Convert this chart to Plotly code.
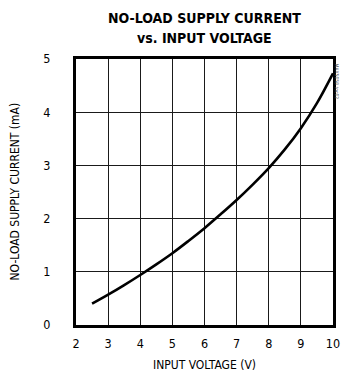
import plotly.graph_objects as go

# Data
input_voltage = [2.5, 3.0, 3.5, 4.0, 4.5, 5.0, 5.5, 6.0, 6.5, 7.0, 7.5, 8.0, 8.5, 9.0, 9.5, 10.0]
supply_current = [0.40, 0.57, 0.75, 0.94, 1.14, 1.35, 1.58, 1.82, 2.08, 2.35, 2.64, 2.95, 3.30, 3.70, 4.17, 4.73]

x_ticks = [2, 3, 4, 5, 6, 7, 8, 9, 10]
y_ticks = [0, 1, 2, 3, 4, 5]

FONT = "Liberation Sans Narrow, DejaVu Sans Condensed, Arial Narrow, sans-serif"

fig = go.Figure()
fig.add_trace(go.Scatter(
    x=input_voltage, y=supply_current, mode="lines",
    line=dict(color="black", width=2.6, shape="spline", smoothing=1.0),
    showlegend=False, hoverinfo="skip",
))

W, H = 347, 373
L, R, T, B = 75.5, 6.5, 59, 48

fig.update_layout(
    width=W, height=H,
    margin=dict(l=L, r=R, t=T, b=B, pad=0),
    paper_bgcolor="white", plot_bgcolor="white",
    font=dict(family=FONT, size=12, color="black"),
    xaxis=dict(
        range=[2, 10], tickvals=x_ticks, ticktext=[str(v) for v in x_ticks],
        showgrid=True, gridcolor="#1a1a1a", gridwidth=1.2,
        showline=True, linecolor="black", linewidth=3, mirror=True,
        ticks="", ticklabelstandoff=5, zeroline=False,
        tickfont=dict(family=FONT, size=12.5),
    ),
    yaxis=dict(
        range=[0, 5], tickvals=y_ticks, ticktext=[str(v) for v in y_ticks],
        showgrid=True, gridcolor="#1a1a1a", gridwidth=1.2,
        showline=True, linecolor="black", linewidth=3, mirror=True,
        ticks="", ticklabelstandoff=20, zeroline=False,
        tickfont=dict(family=FONT, size=12.5),
    ),
    annotations=[
        dict(text="<b>NO-LOAD SUPPLY CURRENT</b>", xref="paper", yref="paper",
             x=0.5, y=1, yshift=41, xanchor="center", yanchor="middle",
             showarrow=False, font=dict(family=FONT, size=14)),
        dict(text="<b>vs. INPUT VOLTAGE</b>", xref="paper", yref="paper",
             x=0.5, y=1, yshift=21, xanchor="center", yanchor="middle",
             showarrow=False, font=dict(family=FONT, size=14)),
        dict(text="NO-LOAD SUPPLY CURRENT (mA)", xref="paper", yref="paper",
             x=0, y=0.5, xshift=-61.5, xanchor="center", yanchor="middle",
             textangle=-90, showarrow=False, font=dict(family=FONT, size=12)),
        dict(text="INPUT VOLTAGE (V)", xref="paper", yref="paper",
             x=0.5, y=0, yshift=-40, xanchor="center", yanchor="middle",
             showarrow=False, font=dict(family=FONT, size=12)),
        dict(text="MAX5058 toc02", xref="paper", yref="paper",
             x=1, y=1, xshift=3.5, yshift=-22, xanchor="center", yanchor="middle",
             textangle=90, showarrow=False, font=dict(family=FONT, size=5, color="#555")),
    ],
)

fig.write_html(
    "out.html",
    config={"displayModeBar": False, "staticPlot": True},
    post_script="document.body.style.margin='0';document.body.style.overflow='hidden';",
)
